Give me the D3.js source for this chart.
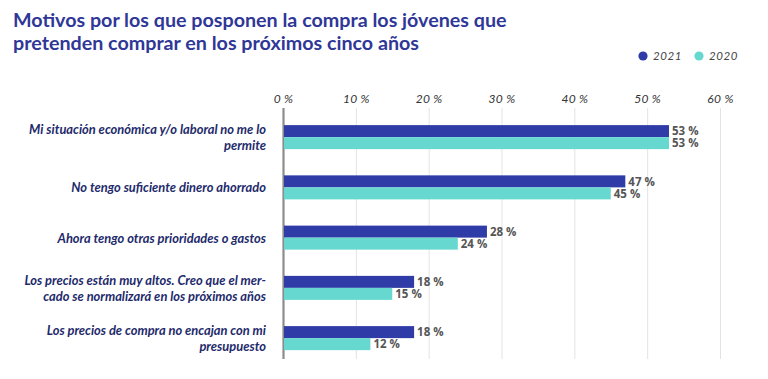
<!DOCTYPE html>
<html>
<head>
<meta charset="utf-8">
<script src="https://cdn.jsdelivr.net/npm/d3@7"></script>
<style>
  html, body { margin: 0; padding: 0; background: #ffffff; }
  svg { display: block; }
</style>
</head>
<body>
<svg id="chart" width="768" height="379"></svg>
<script>
const titleLines = [
  "Motivos por los que posponen la compra los jóvenes que",
  "pretenden comprar en los próximos cinco años"
];
const categories = [
  "Mi situación económica y/o laboral no me lo|permite",
  "No tengo suficiente dinero ahorrado",
  "Ahora tengo otras prioridades o gastos",
  "Los precios están muy altos. Creo que el mer-|cado se normalizará en los próximos años",
  "Los precios de compra no encajan con mi|presupuesto"
];
const seriesNames = ["2021", "2020"];
const values2021 = [53, 47, 28, 18, 18];
const values2020 = [53, 45, 24, 15, 12];
const tickValues = [0, 10, 20, 30, 40, 50, 60];

const colors = { "2021": "#2f3ba6", "2020": "#67d8cf" };
const seriesValues = { "2021": values2021, "2020": values2020 };

const svg = d3.select("#chart");

// Title
svg.append("g").selectAll("text")
  .data(titleLines)
  .join("text")
  .attr("x", 13)
  .attr("y", (d, i) => 27 + i * 23)
  .attr("font-family", "Lato, 'Open Sans', sans-serif")
  .attr("font-weight", 700)
  .attr("font-size", 19.7)
  .attr("fill", "#2f3797")
  .text(d => d);

// Legend
const legend = svg.append("g");
const legendX = [643, 699];
seriesNames.forEach((s, i) => {
  legend.append("circle").attr("cx", legendX[i]).attr("cy", 56).attr("r", 4.6).attr("fill", colors[s]);
  legend.append("text")
    .attr("x", legendX[i] + 10).attr("y", 60)
    .attr("font-family", "Lato, sans-serif").attr("font-style", "italic")
    .attr("font-size", 11.5).attr("fill", "#444").attr("letter-spacing", 0.6)
    .text(s);
});

// Scales
const x = d3.scaleLinear().domain([0, 60]).range([283, 720]);
const y = d3.scaleBand().domain(categories).range([112, 363.25]).paddingInner(0.522).paddingOuter(0.261);
const ySub = d3.scaleBand().domain(seriesNames).range([0, y.bandwidth()]);

const gridTop = 108, gridBottom = 359;

// Top axis with gridlines
const axis = d3.axisTop(x).tickValues(tickValues).tickFormat(d => d + " %").tickSize(0);
const axG = svg.append("g").attr("transform", `translate(0,${gridTop})`).call(axis);
axG.select(".domain").remove();
axG.selectAll(".tick text")
  .attr("y", -5)
  .attr("font-family", "Lato, sans-serif")
  .attr("font-style", "italic")
  .attr("font-size", 12)
  .attr("fill", "#333")
  .attr("letter-spacing", 0.3);
axG.selectAll(".tick").append("line")
  .attr("y1", 0).attr("y2", gridBottom - gridTop)
  .attr("stroke", d => d === 0 ? "#8c8c8c" : "#e3e3e6")
  .attr("stroke-width", d => d === 0 ? 2.2 : 1);

// Bars
const groups = svg.append("g").selectAll("g")
  .data(categories)
  .join("g")
  .attr("transform", d => `translate(0,${y(d)})`);

seriesNames.forEach(s => {
  groups.append("rect")
    .attr("x", x(0) + 1)
    .attr("y", ySub(s))
    .attr("width", (d, i) => x(seriesValues[s][i]) - x(0) - 1)
    .attr("height", ySub.bandwidth())
    .attr("fill", colors[s]);
  groups.append("text")
    .attr("x", (d, i) => x(seriesValues[s][i]) + 3)
    .attr("y", ySub(s) + ySub.bandwidth() / 2)
    .attr("dy", "0.36em")
    .attr("font-family", "'Open Sans', sans-serif")
    .attr("font-weight", 700)
    .attr("font-size", 11.5)
    .attr("fill", "#555")
    .text((d, i) => seriesValues[s][i] + " %");
});

// Category labels
groups.each(function(d) {
  const lines = d.split("|");
  const g = d3.select(this);
  const lh = 16.5;
  const cy = y.bandwidth() / 2 + 0.5;
  const t = g.append("text")
    .attr("text-anchor", "end")
    .attr("font-family", "Lato, sans-serif")
    .attr("font-style", "italic")
    .attr("font-weight", 700)
    .attr("font-size", 12.9)
    .attr("fill", "#232a6b");
  lines.forEach((ln, i) => {
    t.append("tspan")
      .attr("x", 266)
      .attr("y", cy + (i - (lines.length - 1) / 2) * lh)
      .attr("dy", "0.35em")
      .text(ln);
  });
});
</script>
</body>
</html>
